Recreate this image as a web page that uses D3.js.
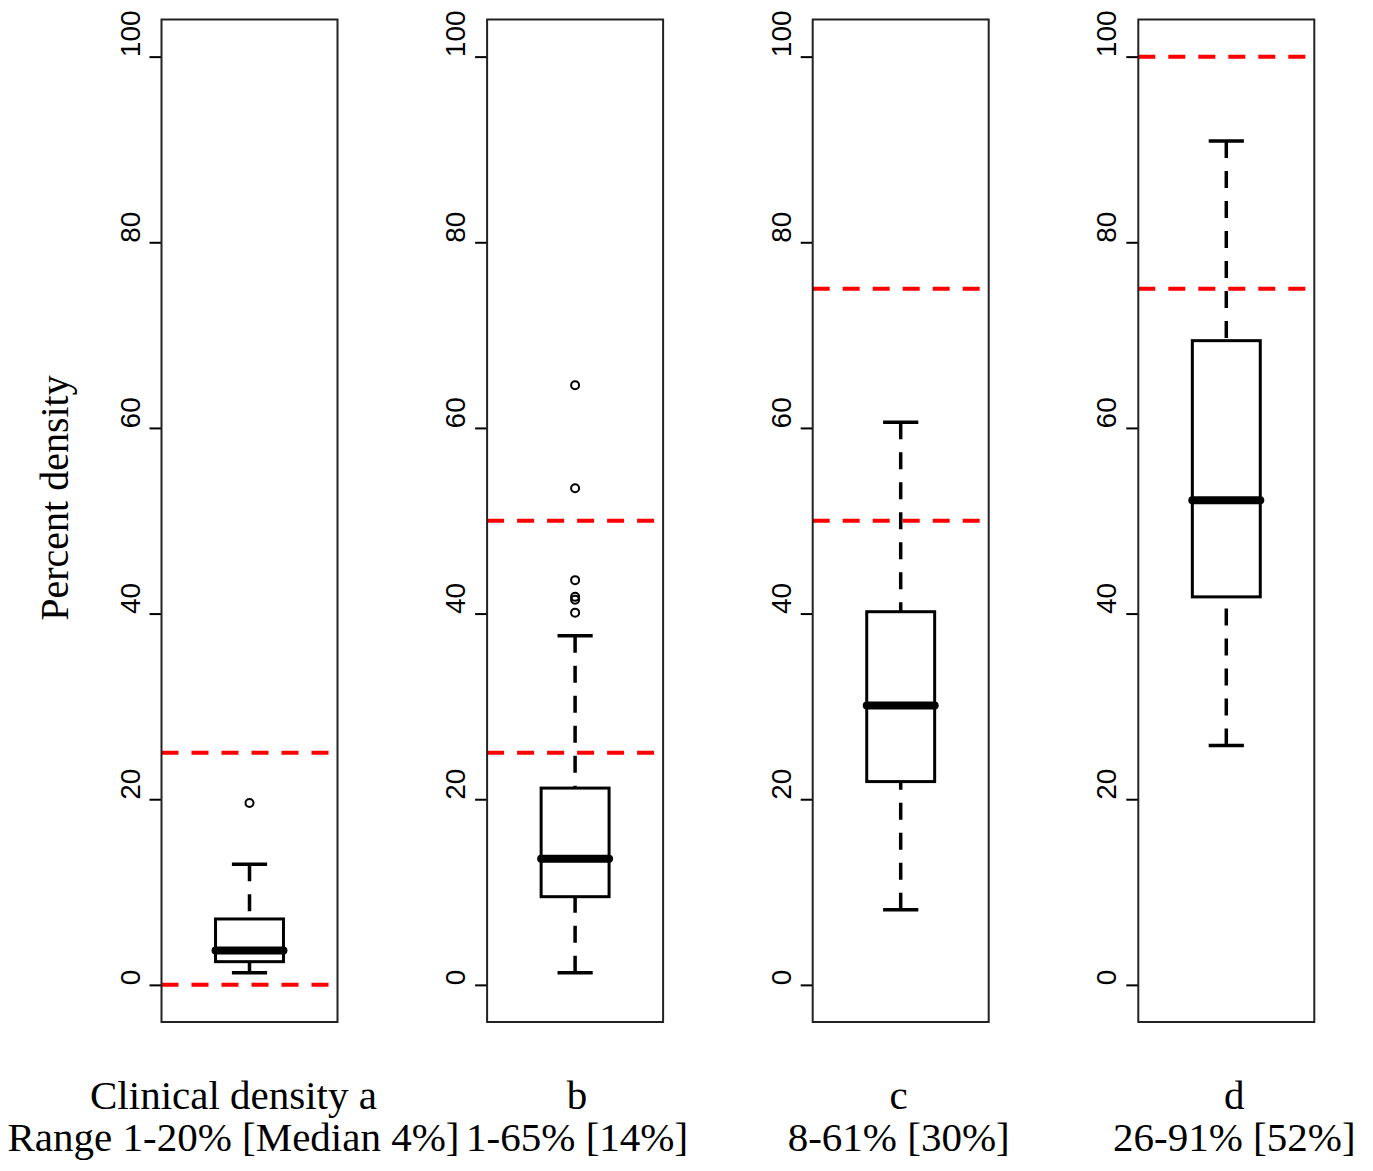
<!DOCTYPE html>
<html>
<head>
<meta charset="utf-8">
<script src="https://cdn.jsdelivr.net/npm/d3@7"></script>
<style>
  body { margin: 0; background: #fff; }
  .tick text { font-family: "Liberation Sans", Arial, sans-serif; font-size: 28px; fill: #000; }
  .label { font-family: "Liberation Serif", "Times New Roman", serif; font-size: 40px; fill: #000; }
  .label.bottom { font-size: 41px; }
</style>
</head>
<body>
<div id="chart"></div>
<script>
const groups = ["a", "b", "c", "d"];
const whiskerLow = [1.3, 1.3, 8.1, 25.8];
const q1 = [2.5, 9.5, 21.9, 41.8];
const median = [3.7, 13.6, 30.1, 52.2];
const q3 = [7.1, 21.2, 40.2, 69.4];
const whiskerHigh = [13.0, 37.6, 60.6, 90.9];
const outliers = [[19.6], [40.1, 41.5, 41.8, 43.6, 53.5, 64.6], [], []];
const refLines = [[0, 25], [25, 50], [50, 75], [75, 100]];
const labelLine1 = ["Clinical density a", "b", "c", "d"];
const labelLine2 = ["Range 1-20% [Median 4%]", "1-65% [14%]", "8-61% [30%]", "26-91% [52%]"];
const labelShift = [-16, 2, -2, 8];
const yTicks = [0, 20, 40, 60, 80, 100];

let w = 1373;
let h = 1171;
let plotTop = 19.5;
let plotBottom = 1022;
let panelW = 176;

let svg = d3.select("#chart").append("svg").attr("width", w).attr("height", h);

let y = d3.scaleLinear().domain([-4, 104]).range([plotBottom, plotTop]);

// left edge of each panel
let panel = d3.scalePoint().domain(groups).range([161.5, 1138.3]);

groups.forEach(function (g, i) {
  let left = panel(g);
  let x = d3.scaleLinear().domain([0.5, 1.5]).range([left, left + panelW]);
  let p = svg.append("g");

  // y axis with rotated labels
  let axis = p.append("g")
    .attr("transform", `translate(${left},0)`)
    .call(d3.axisLeft(y).tickValues(yTicks).tickSize(12).tickPadding(0));
  axis.select(".domain").remove();
  axis.selectAll(".tick line").attr("stroke", "#000").attr("stroke-width", 2);
  axis.selectAll(".tick text")
    .attr("transform", "rotate(-90)")
    .attr("text-anchor", "start")
    .attr("x", 0)
    .attr("y", -22)
    .attr("dy", 0);

  // reference lines
  p.selectAll(".ref")
    .data(refLines[i])
    .enter()
    .append("line")
    .attr("x1", x(0.5))
    .attr("x2", x(1.5))
    .attr("y1", d => y(d))
    .attr("y2", d => y(d))
    .attr("stroke", "#ff0000")
    .attr("stroke-width", 4)
    .attr("stroke-dasharray", "17,13");

  // whiskers, drawn from the end towards the box
  [[whiskerLow[i], q1[i]], [whiskerHigh[i], q3[i]]].forEach(function (s) {
    p.append("line")
      .attr("x1", x(1)).attr("x2", x(1))
      .attr("y1", y(s[0])).attr("y2", y(s[1]))
      .attr("stroke", "#000")
      .attr("stroke-width", 3.5)
      .attr("stroke-dasharray", "17,13");
    p.append("line")
      .attr("x1", x(0.9)).attr("x2", x(1.1))
      .attr("y1", y(s[0])).attr("y2", y(s[0]))
      .attr("stroke", "#000")
      .attr("stroke-width", 3.5);
  });

  // box
  p.append("rect")
    .attr("x", x(0.807))
    .attr("width", x(1.193) - x(0.807))
    .attr("y", y(q3[i]))
    .attr("height", y(q1[i]) - y(q3[i]))
    .attr("fill", "#fff")
    .attr("stroke", "#000")
    .attr("stroke-width", 3);

  p.append("line")
    .attr("x1", x(0.807)).attr("x2", x(1.193))
    .attr("y1", y(median[i])).attr("y2", y(median[i]))
    .attr("stroke", "#000")
    .attr("stroke-width", 8)
    .attr("stroke-linecap", "round");

  p.selectAll(".out")
    .data(outliers[i])
    .enter()
    .append("circle")
    .attr("cx", x(1))
    .attr("cy", d => y(d))
    .attr("r", 4)
    .attr("fill", "none")
    .attr("stroke", "#000")
    .attr("stroke-width", 2);

  // frame
  p.append("rect")
    .attr("x", left)
    .attr("y", plotTop)
    .attr("width", panelW)
    .attr("height", plotBottom - plotTop)
    .attr("fill", "none")
    .attr("stroke", "#222")
    .attr("stroke-width", 2);

  let cx = x(1) + labelShift[i];
  p.append("text").attr("class", "label bottom")
    .attr("x", cx).attr("y", 1109)
    .attr("text-anchor", "middle")
    .text(labelLine1[i]);
  p.append("text").attr("class", "label bottom")
    .attr("x", cx).attr("y", 1151)
    .attr("text-anchor", "middle")
    .text(labelLine2[i]);
});

svg.append("text")
  .attr("class", "label")
  .attr("transform", "translate(68,498) rotate(-90)")
  .attr("text-anchor", "middle")
  .text("Percent density");
</script>
</body>
</html>
